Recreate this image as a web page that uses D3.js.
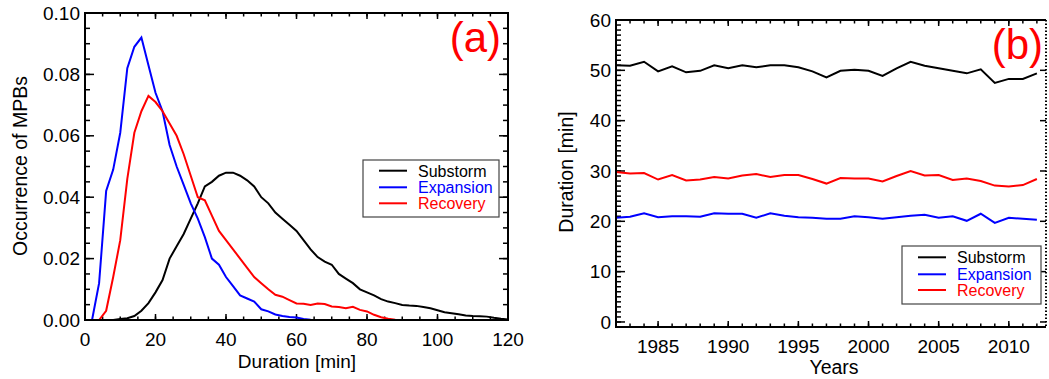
<!DOCTYPE html>
<html lang="en">
<head>
<meta charset="UTF-8">
<title>MPB duration</title>
<script src="https://d3js.org/d3.v7.min.js"></script>
<style>
  body { margin: 0; background: #fff; }
  text { font-family: "Liberation Sans", Arial, sans-serif; fill: #000; }
</style>
</head>
<body>
<script>
// ---- data: panel (a), occurrence vs duration (2 min bins) ----
var durations = d3.range(0, 122, 2)
var substormOcc = [0, 0, 0, 0, 0, 0.0003, 0.0006, 0.0013, 0.003, 0.0055,
  0.009, 0.013, 0.020, 0.024, 0.028, 0.033, 0.038, 0.0435, 0.045, 0.047,
  0.048, 0.048, 0.047, 0.0455, 0.0435, 0.040, 0.038, 0.035, 0.033, 0.031,
  0.029, 0.026, 0.023, 0.0205, 0.019, 0.018, 0.015, 0.0135, 0.012, 0.010,
  0.009, 0.008, 0.0068, 0.006, 0.0055, 0.0049, 0.0047, 0.0046, 0.0042, 0.0038,
  0.0032, 0.0025, 0.0022, 0.0019, 0.0015, 0.0013, 0.0012, 0.0011, 0.0007, 0.0004, 0.0002]
var expansionOcc = [0, 0, 0.012, 0.042, 0.049, 0.061, 0.082, 0.089, 0.092, 0.083,
  0.074, 0.068, 0.057, 0.050, 0.044, 0.038, 0.033, 0.027, 0.020, 0.018,
  0.014, 0.011, 0.008, 0.007, 0.006, 0.0035, 0.0028, 0.0018, 0.0013, 0.001,
  0.0008, 0.0003, 0.0001, 0, 0, 0, 0, 0, 0, 0,
  0, 0, 0, 0, 0, 0, 0, 0, 0, 0,
  0, 0, 0, 0, 0, 0, 0, 0, 0, 0, 0]
var recoveryOcc = [0, 0, 0, 0.003, 0.014, 0.026, 0.046, 0.061, 0.068, 0.073,
  0.071, 0.068, 0.064, 0.060, 0.054, 0.047, 0.040, 0.039, 0.034, 0.029,
  0.026, 0.023, 0.020, 0.017, 0.014, 0.012, 0.010, 0.0082, 0.0076, 0.0065,
  0.0054, 0.0053, 0.0049, 0.0054, 0.0052, 0.0044, 0.0042, 0.0038, 0.0043, 0.0033,
  0.0028, 0.0017, 0.0009, 0.0004, 0.0001, 0, 0, 0, 0, 0,
  0, 0, 0, 0, 0, 0, 0, 0, 0, 0, 0]

// ---- data: panel (b), yearly mean duration ----
var years = d3.range(1982, 2013)
var substormDur = [51.0, 50.9, 51.7, 49.8, 50.8, 49.6, 49.9, 51.0, 50.4, 51.0,
  50.6, 51.0, 51.0, 50.6, 49.8, 48.6, 49.9, 50.1, 49.9, 48.9,
  50.4, 51.7, 50.9, 50.4, 49.9, 49.4, 50.2, 47.5, 48.3, 48.3, 49.4]
var expansionDur = [20.7, 20.9, 21.6, 20.8, 21.0, 21.0, 20.9, 21.6, 21.5, 21.5,
  20.7, 21.6, 21.1, 20.8, 20.7, 20.5, 20.5, 21.0, 20.8, 20.5,
  20.8, 21.1, 21.3, 20.7, 21.0, 20.1, 21.5, 19.7, 20.7, 20.5, 20.3]
var recoveryDur = [29.8, 29.5, 29.6, 28.3, 29.2, 28.1, 28.3, 28.8, 28.5, 29.1,
  29.4, 28.8, 29.2, 29.2, 28.4, 27.5, 28.6, 28.5, 28.5, 27.9,
  29.0, 30.0, 29.1, 29.2, 28.2, 28.5, 28.0, 27.1, 26.9, 27.2, 28.4]

// ---- ticks and labels ----
var aXMajor = [0, 20, 40, 60, 80, 100, 120]
var aYMajor = [0, 0.02, 0.04, 0.06, 0.08, 0.10]
var bXMajor = [1985, 1990, 1995, 2000, 2005, 2010]
var bYMajor = [0, 10, 20, 30, 40, 50, 60]
var seriesNames = ["Substorm", "Expansion", "Recovery"]
var seriesColors = ["#000000", "#0000ff", "#ff0000"]

var svg = d3.select("body").append("svg")
  .attr("width", 1049).attr("height", 379)

function tickLines(g, vals, fn, width) {
  g.selectAll(null).data(vals).enter().append("line")
    .each(function (d) {
      var c = fn(d)
      d3.select(this).attr("x1", c[0]).attr("y1", c[1]).attr("x2", c[2]).attr("y2", c[3])
    })
    .attr("stroke", "#000").attr("stroke-width", width || 1.5)
}

function lineOf(x, y, xs) {
  return d3.line().x(function (d, i) { return x(xs[i]) }).y(function (d) { return y(d) })
}

function legend(g, x0, y0, w, h, rows) {
  g.append("rect").attr("x", x0).attr("y", y0).attr("width", w).attr("height", h)
    .attr("fill", "#fff").attr("stroke", "#444").attr("stroke-width", 1.2)
  seriesNames.forEach(function (name, i) {
    var cy = rows[i]
    g.append("line").attr("x1", x0 + 16).attr("x2", x0 + 44).attr("y1", cy).attr("y2", cy)
      .attr("stroke", seriesColors[i]).attr("stroke-width", 2)
    g.append("text").attr("x", x0 + 55).attr("y", cy + 6).text(name)
      .style("font-size", "16px").style("fill", seriesColors[i])
  })
}

// ================= panel (a) =================
var xa = d3.scaleLinear().domain([0, 120]).range([85, 508])
var ya = d3.scaleLinear().domain([0, 0.1]).range([320, 13])
var ga = svg.append("g")

var aXMinor = d3.range(0, 121, 5)
var aYMinor = d3.range(0, 0.1001, 0.005)
tickLines(ga, aXMinor, function (d) { return [xa(d), 320, xa(d), 316.5] })
tickLines(ga, aXMinor, function (d) { return [xa(d), 13, xa(d), 16.5] })
tickLines(ga, aXMajor, function (d) { return [xa(d), 320, xa(d), 314] })
tickLines(ga, aXMajor, function (d) { return [xa(d), 13, xa(d), 19] })
tickLines(ga, aYMinor, function (d) { return [85, ya(d), 90, ya(d)] })
tickLines(ga, aYMinor, function (d) { return [508, ya(d), 503, ya(d)] })
tickLines(ga, aYMajor, function (d) { return [85, ya(d), 94, ya(d)] })
tickLines(ga, aYMajor, function (d) { return [508, ya(d), 499, ya(d)] })

ga.selectAll(".series").data([substormOcc, expansionOcc, recoveryOcc]).enter()
  .append("path")
  .attr("d", function (d) { return lineOf(xa, ya, durations)(d) })
  .attr("fill", "none")
  .attr("stroke", function (d, i) { return seriesColors[i] })
  .attr("stroke-width", 2)

ga.append("rect").attr("x", 85).attr("y", 13).attr("width", 423).attr("height", 307)
  .attr("fill", "none").attr("stroke", "#000").attr("stroke-width", 2)

ga.selectAll(".xl").data(aXMajor).enter().append("text")
  .attr("x", function (d) { return xa(d) }).attr("y", 345.5)
  .attr("text-anchor", "middle").style("font-size", "19px").text(function (d) { return d })
ga.selectAll(".yl").data(aYMajor).enter().append("text")
  .attr("x", 80).attr("y", function (d) { return ya(d) }).attr("dy", "0.35em")
  .attr("text-anchor", "end").style("font-size", "19px").text(d3.format(".2f"))

ga.append("text").attr("x", 297).attr("y", 367.5).attr("text-anchor", "middle")
  .style("font-size", "19px").text("Duration [min]")
ga.append("text").attr("transform", "translate(27,166) rotate(-90)").attr("text-anchor", "middle")
  .style("font-size", "19.5px").text("Occurrence of MPBs")
ga.append("text").attr("x", 501).attr("y", 52).attr("text-anchor", "end")
  .style("font-size", "42px").style("fill", "#ff0000").text("(a)")

legend(ga, 363, 160, 136, 57, [170.7, 187.3, 203.3])

// ================= panel (b) =================
var xb = d3.scaleLinear().domain([1982, 2012.65]).range([616, 1046])
var yb = d3.scaleLinear().domain([-1, 60]).range([327, 20])
var gb = svg.append("g")

var bXMinor = d3.range(1982, 2013, 1)
var bYMinor = d3.range(0, 61, 1)
tickLines(gb, bXMinor, function (d) { return [xb(d), 327, xb(d), 323.5] })
tickLines(gb, bXMinor, function (d) { return [xb(d), 20, xb(d), 23.5] })
tickLines(gb, bXMajor, function (d) { return [xb(d), 327, xb(d), 321] })
tickLines(gb, bXMajor, function (d) { return [xb(d), 20, xb(d), 26] })
tickLines(gb, bYMinor, function (d) { return [616, yb(d), 621, yb(d)] })
tickLines(gb, bYMajor, function (d) { return [616, yb(d), 625, yb(d)] })
tickLines(gb, bYMajor, function (d) { return [1046, yb(d), 1040, yb(d)] })

gb.selectAll(".series").data([substormDur, expansionDur, recoveryDur]).enter()
  .append("path")
  .attr("d", function (d) { return lineOf(xb, yb, years)(d) })
  .attr("fill", "none")
  .attr("stroke", function (d, i) { return seriesColors[i] })
  .attr("stroke-width", 2)

gb.append("path").attr("d", "M1046,20H616V327H1046")
  .attr("fill", "none").attr("stroke", "#000").attr("stroke-width", 2)
gb.append("line").attr("x1", 1046).attr("x2", 1046).attr("y1", 20).attr("y2", 327)
  .attr("stroke", "#000").attr("stroke-width", 2).attr("stroke-dasharray", "1.5,2")

gb.selectAll(".xl").data(bXMajor).enter().append("text")
  .attr("x", function (d) { return xb(d) }).attr("y", 353)
  .attr("text-anchor", "middle").style("font-size", "19px").text(function (d) { return d })
gb.selectAll(".yl").data(bYMajor).enter().append("text")
  .attr("x", 611).attr("y", function (d) { return yb(d) }).attr("dy", "0.35em")
  .attr("text-anchor", "end").style("font-size", "19px").text(function (d) { return d })

gb.append("text").attr("x", 834).attr("y", 374).attr("text-anchor", "middle")
  .style("font-size", "19.5px").text("Years")
gb.append("text").attr("transform", "translate(573,172) rotate(-90)").attr("text-anchor", "middle")
  .style("font-size", "19.5px").text("Duration [min]")
gb.append("text").attr("x", 1043).attr("y", 59).attr("text-anchor", "end")
  .style("font-size", "42px").style("fill", "#ff0000").text("(b)")

legend(gb, 902, 246, 139, 58, [257.3, 274.3, 290])
</script>
</body>
</html>
